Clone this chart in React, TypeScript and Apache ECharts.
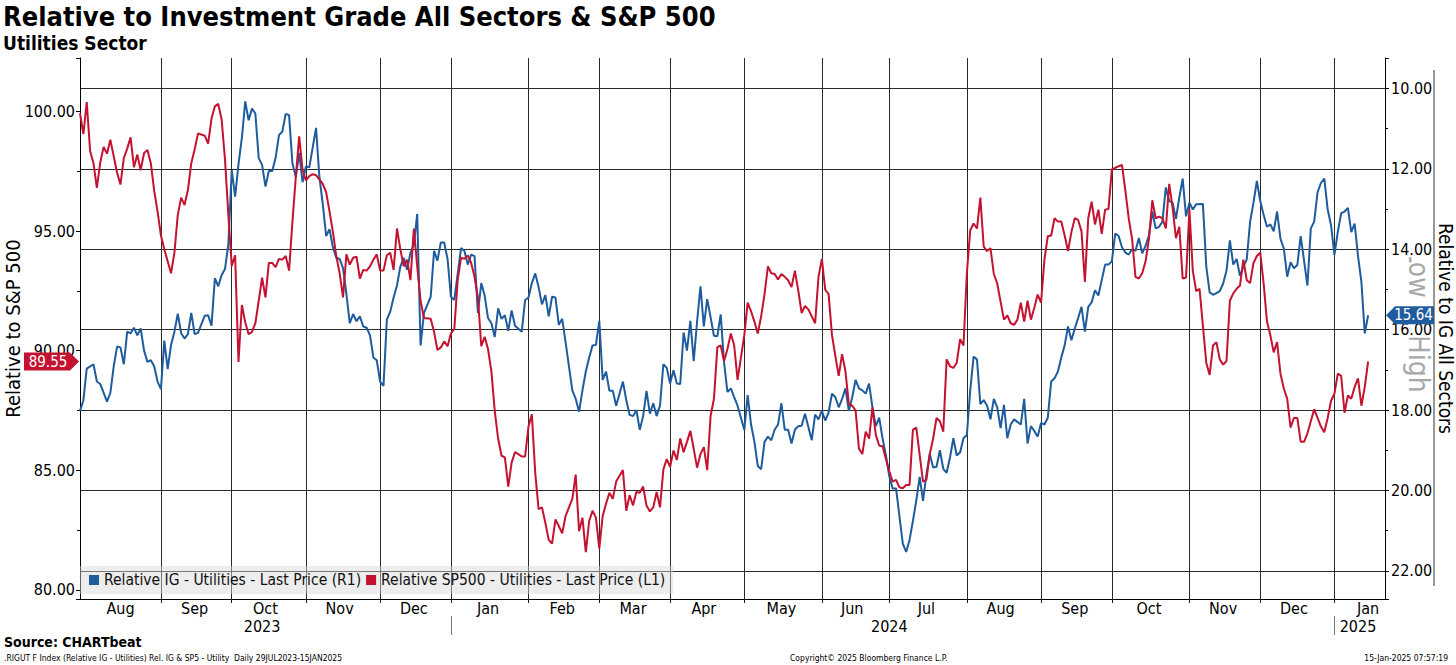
import React, { useEffect, useRef } from "react";
import * as echarts from "echarts";

const FONT = '"DejaVu Sans Condensed", "DejaVu Sans", sans-serif';
const BLUE = "#1f5c9e";
const RED = "#c41230";

const TITLE = "Relative to Investment Grade All Sectors & S&P 500";
const SUBTITLE = "Utilities Sector";
const IG_NAME = "Relative IG - Utilities - Last Price (R1)";
const SP_NAME = "Relative SP500 - Utilities - Last Price (L1)";
const LEFT_AXIS_NAME = "Relative to S&P 500";
const RIGHT_AXIS_NAME = "Relative to IG All Sectors";
const WATERMARK = "Low > High";
const SOURCE = "Source: CHARTbeat";
const FOOT_LEFT = ".RIGUT F Index (Relative IG - Utilities) Rel. IG & SP5 - Utility  Daily 29JUL2023-15JAN2025";
const FOOT_MID = "Copyright\u00a9 2025 Bloomberg Finance L.P.";
const FOOT_RIGHT = "15-Jan-2025 07:57:19";
const MONTHS = ["Jan", "Feb", "Mar", "Apr", "May", "Jun", "Jul", "Aug", "Sep", "Oct", "Nov", "Dec"];

// weekday categories (trading days) from 31 Jul 2023 to 22 Jan 2025
const START_DATE = Date.UTC(2023, 6, 31);
const CATEGORY_COUNT = 388;
const dates: string[] = [];
for (let t = START_DATE; dates.length < CATEGORY_COUNT; t += 86400000) {
  const d = new Date(t);
  const wd = d.getUTCDay();
  if (wd !== 0 && wd !== 6) dates.push(d.toISOString().slice(0, 10));
}

// Relative IG - Utilities (right axis, inverted); x = weekday index from 31 Jul 2023
const igDay = [
  0, 1, 2, 4, 5, 6, 8, 9, 10, 11, 12, 13, 14, 15, 16, 17, 18, 19, 20, 21, 22, 23, 24, 25, 26, 27, 28, 29, 30, 31, 32, 33, 34, 35, 37, 38, 39,
  40, 41, 42, 43, 44, 45, 46, 47, 48, 49, 50, 51, 52, 53, 54, 55, 56, 57, 58, 59, 60, 61, 62, 63, 64, 65, 66, 67, 68, 70, 71, 72, 73, 74, 75,
  76, 77, 78, 79, 80, 81, 82, 83, 84, 85, 86, 87, 88, 89, 90, 91, 92, 93, 94, 95, 96, 97, 98, 99, 100, 101, 102, 103, 104, 105, 106, 107, 108,
  109, 110, 111, 113, 114, 115, 116, 117, 118, 119, 120, 121, 122, 123, 124, 125, 126, 127, 128, 129, 131, 132, 133, 134, 135, 136, 137, 138,
  139, 140, 141, 142, 143, 144, 145, 146, 147, 148, 149, 150, 151, 152, 153, 154, 155, 156, 157, 158, 159, 161, 162, 163, 164, 165, 166, 167,
  168, 169, 170, 171, 172, 173, 174, 175, 176, 177, 178, 179, 180, 181, 182, 183, 184, 185, 186, 187, 188, 189, 190, 191, 192, 193, 194, 195,
  196, 197, 198, 199, 200, 201, 202, 203, 204, 205, 206, 207, 208, 209, 210, 211, 212, 213, 214, 215, 217, 218, 219, 220, 221, 222, 223, 224,
  225, 226, 227, 228, 229, 230, 231, 232, 233, 234, 235, 236, 237, 238, 239, 240, 241, 242, 244, 245, 246, 247, 248, 249, 250, 251, 252, 253,
  254, 255, 256, 257, 258, 259, 260, 261, 262, 263, 264, 265, 266, 267, 268, 269, 270, 271, 272, 273, 274, 275, 276, 277, 279, 280, 281, 282,
  283, 284, 285, 286, 287, 288, 289, 290, 291, 292, 293, 294, 295, 296, 297, 298, 299, 300, 301, 302, 304, 305, 306, 307, 308, 309, 310, 311,
  312, 313, 314, 315, 316, 317, 318, 319, 320, 321, 322, 323, 324, 325, 326, 327, 328, 329, 330, 331, 333, 334, 335, 336, 337, 338, 339, 340,
  341, 342, 343, 344, 345, 346, 347, 348, 349, 350, 351, 352, 353, 354, 355, 356, 357, 358, 359, 360, 361, 362, 364, 365, 366, 367, 368, 369,
  370, 371, 372, 373, 374, 375, 376, 377, 378, 379, 380, 381, 382,
];
const igValue = [
  18.02, 17.76, 16.97, 16.86, 17.29, 17.35, 17.79, 17.57, 16.91, 16.42, 16.44, 16.86, 16.05, 16.09, 15.95, 16.14, 15.97, 16.52, 16.8, 16.76,
  16.91, 17.29, 17.48, 16.27, 16.98, 16.38, 16.05, 15.6, 16.09, 16.22, 16.11, 15.58, 16.11, 16.08, 15.65, 15.64, 15.9,
  14.72, 14.92, 14.64, 14.49, 13.87, 12.03, 12.69, 11.88, 11.23, 10.32, 10.79, 10.5, 10.62, 11.73, 11.9, 12.44, 12.05, 12.05, 11.73, 11.16,
  11.07, 10.63, 10.66, 11.86, 12.2, 11.6, 12.33, 11.94, 11.96, 10.98, 12.2, 12.88, 13.67, 13.5, 13.95,
  14.21, 14.24, 14.47, 15.11, 15.84, 15.61, 15.79, 15.67, 15.92, 15.95, 16.14, 16.69, 16.76, 17.29, 17.4, 15.75, 15.55, 15.2, 14.9, 14.43,
  14.21, 14.51, 14.08, 13.89, 13.12, 16.39, 15.58, 15.38, 15.18, 14.04, 14.28, 13.83, 13.83,
  14.24, 15.18, 15.26, 13.97, 14.04, 14.38, 14.13, 14.17, 15.58, 14.84, 15.15, 15.71, 15.84, 16.18, 15.47, 15.73, 15.64, 16.03, 15.52, 15.9,
  16.05, 15.26, 15.2, 14.84, 14.6, 14.94, 15.37, 15.14,
  15.67, 15.18, 15.2, 15.88, 15.73, 16.31, 16.91, 17.51, 17.72, 18.04, 17.51, 17.04, 16.69, 16.39, 16.38, 15.78, 17.25, 17.04, 17.52, 17.52,
  17.89, 17.29, 17.75, 18.12, 18.15, 18.0, 18.49, 18.15,
  17.52, 18.09, 17.83, 18.15, 17.89, 16.86, 16.95, 17.34, 17.01, 17.34, 17.35, 16.07, 16.52, 15.78, 16.78, 15.79, 14.92, 15.92, 15.24, 15.69,
  16.15, 16.16, 15.62, 16.82, 17.55, 17.46, 17.68, 17.89,
  18.19, 18.49, 17.63, 18.36, 18.79, 19.39, 19.47, 18.79, 18.66, 18.75, 18.49, 18.36, 17.83, 18.49, 18.49, 18.83, 18.49, 18.4, 18.39, 18.09,
  18.75, 18.11, 18.23, 18.02, 18.26, 18.06, 17.59, 17.68,
  17.93, 17.72, 17.46, 18.02, 17.68, 17.25, 17.46, 17.51, 17.59, 17.34, 17.93, 18.4, 18.19, 18.7, 19.13, 19.65, 19.95, 19.95, 21.32, 21.53,
  21.23, 20.76, 20.25, 19.66, 20.26, 19.6, 19.09, 19.43,
  19.41, 19.0, 19.46, 19.56, 19.18, 18.7, 19.13, 19.05, 18.7, 18.62, 17.51, 16.67, 16.74, 17.85, 17.75, 17.89, 18.23, 17.72, 17.93, 18.45,
  17.87, 18.7, 18.36, 18.23, 18.36, 17.72, 18.83, 18.4,
  18.52, 18.66, 18.32, 18.36, 18.19, 17.29, 17.21, 17.04, 16.69, 16.39, 15.92, 16.26, 15.97, 15.71, 15.43, 16.05, 15.43, 15.32, 15.02, 15.15,
  14.38, 14.38, 14.3, 13.61, 13.67, 13.95, 14.08, 14.13,
  14.0, 14.04, 13.72, 14.1, 13.91, 13.65, 13.06, 13.48, 13.44, 13.31, 12.46, 12.8, 12.84, 13.24, 12.71, 12.24, 13.18, 12.84, 13.01, 12.88,
  12.87, 14.43, 15.07, 15.13, 15.09, 15.04, 14.85, 14.53,
  13.78, 14.38, 14.24, 14.66, 14.43, 14.25, 13.31, 12.84, 12.3, 12.8, 13.14, 13.44, 13.38, 13.55, 13.06, 13.74, 13.98, 14.68, 14.32, 14.47,
  14.39, 13.67, 14.9, 13.48, 13.31, 12.58, 12.35, 12.24,
  13.01, 13.4, 14.14, 13.57, 13.1, 13.06, 12.97, 13.57, 13.36, 14.17, 14.81, 16.09, 15.64,
];

// Relative SP500 - Utilities (left axis)
const spDay = [
  0, 1, 2, 3, 4, 5, 6, 7, 8, 9, 11, 12, 13, 14, 15, 16, 17, 18, 19, 20, 21, 22, 23, 24, 25, 26, 27, 28, 29, 30, 31, 32, 33, 34, 35, 37, 38,
  39, 40, 41, 42, 43, 44, 45, 46, 47, 48, 49, 50, 51, 52, 53, 54, 55, 56, 57, 58, 59, 60, 61, 62, 63, 64, 65, 66, 67, 68, 69, 70, 72, 73,
  74, 75, 76, 77, 78, 79, 80, 81, 82, 83, 84, 85, 86, 87, 88, 89, 90, 91, 92, 93, 94, 95, 96, 97, 98, 99, 100, 101, 102, 104, 105, 106, 107,
  108, 109, 110, 111, 112, 113, 114, 115, 116, 117, 118, 119, 120, 121, 122, 123, 124, 125, 126, 127, 128, 129, 130, 131, 132, 133, 134,
  135, 136, 137, 138, 139, 140, 141, 142, 143, 144, 145, 146, 147, 148, 149, 150, 151, 152, 153, 154, 155, 156, 157, 158, 159, 161, 162,
  163, 164, 165, 166, 167, 168, 169, 170, 171, 172, 173, 174, 175, 176, 177, 178, 179, 180, 181, 182, 183, 184, 185, 186, 187, 188, 189,
  190, 191, 192, 193, 194, 195, 196, 197, 198, 199, 200, 201, 202, 203, 204, 205, 206, 207, 208, 209, 210, 211, 212, 213, 214, 215, 216,
  218, 219, 220, 221, 222, 223, 224, 225, 226, 227, 228, 229, 230, 231, 232, 233, 234, 235, 236, 237, 238, 239, 240, 241, 242, 243, 244,
  245, 246, 247, 248, 250, 251, 252, 253, 254, 255, 256, 257, 258, 259, 260, 261, 262, 263, 264, 265, 266, 267, 268, 269, 270, 271, 272,
  274, 275, 276, 277, 278, 279, 280, 281, 282, 283, 284, 285, 286, 287, 288, 289, 290, 291, 292, 293, 294, 295, 296, 297, 298, 299, 300,
  301, 302, 303, 304, 305, 306, 307, 309, 310, 311, 312, 313, 314, 315, 316, 317, 318, 319, 320, 321, 322, 323, 324, 325, 326, 327, 328,
  329, 330, 331, 332, 334, 335, 336, 337, 338, 339, 340, 341, 342, 343, 344, 345, 346, 347, 348, 349, 350, 351, 352, 353, 354, 355, 356,
  357, 358, 359, 360, 361, 362, 363, 364, 365, 366, 367, 368, 369, 370, 371, 372, 373, 374, 375, 376, 377, 378, 379, 380, 381, 382,
];
const spValue = [
  99.93, 99.06, 100.4, 98.35, 97.84, 96.81, 97.87, 98.52, 98.24, 98.82, 97.44, 96.95, 98.06, 98.45, 98.92, 97.67, 98.2, 97.55, 98.27, 98.39,
  97.84, 96.69, 95.83, 94.82, 94.24, 93.74, 93.24, 94.1, 95.68, 96.4, 96.09, 96.72, 97.84, 98.42, 99.09, 98.99, 98.66,
  99.71, 100.22, 100.32, 99.68, 97.99, 95.68, 93.55, 93.99, 89.53, 91.91, 91.19, 90.69, 90.79, 91.15, 92.09, 93.06, 92.23, 93.67, 93.67,
  93.5, 93.84, 93.81, 93.96, 93.35, 95.4, 97.27, 98.96, 97.55, 97.12, 97.3, 97.38, 97.34, 96.98, 96.62,
  95.83, 94.96, 93.96, 93.24, 92.23, 94.03, 93.6, 93.89, 93.93, 93.02, 93.38, 93.35, 93.53, 93.81, 94.03, 93.35, 93.35, 93.99, 94.1, 93.38,
  95.11, 94.24, 93.53, 93.81, 92.95, 95.11, 93.53, 92.09, 91.37, 91.34, 90.79, 90.03, 90.14,
  90.39, 90.19, 90.72, 90.91, 92.95, 93.89, 93.84, 93.99, 93.67, 93.09, 92.23, 90.19, 90.58, 90.07, 89.14, 87.48, 86.33, 85.61, 85.54, 84.32,
  85.32, 85.76, 85.68, 85.58, 85.58, 86.83, 87.34,
  84.89, 83.38, 83.45, 82.81, 82.09, 81.94, 82.95, 82.66, 82.37, 83.09, 83.45, 83.81, 84.82, 82.45, 83.02, 81.58, 82.88, 83.31, 83.02, 81.73,
  83.09, 83.6, 84.06, 83.81, 84.53, 85.01, 83.31,
  83.96, 83.53, 84.1, 84.06, 84.32, 83.53, 83.28, 83.45, 84.1, 83.45, 85.04, 85.47, 85.15, 85.83, 85.44, 86.33, 85.76, 86.19, 86.65, 85.9,
  85.11, 85.68, 85.97, 85.01, 87.27, 87.99, 90.14,
  90.22, 89.57, 90.07, 90.72, 90.22, 88.78, 89.71, 90.65, 92.01, 91.65, 91.22, 90.72, 91.44, 92.37, 93.53, 93.24, 93.21, 92.98, 93.21, 93.09,
  92.95, 92.66, 93.35, 92.52, 91.58, 91.87, 91.73,
  91.15, 93.09, 93.84, 92.55, 92.37, 90.65, 89.78, 88.95, 89.86, 89.14, 87.77, 87.7, 87.51, 85.9, 85.68, 86.62, 86.33, 87.63, 86.48, 86.04,
  86.01, 85.47, 84.96, 84.53, 84.6, 84.29, 84.25,
  84.39, 84.39, 86.69, 86.79, 84.53, 84.6, 85.68, 86.33, 87.19, 87.05, 86.62, 89.64, 89.35, 89.28, 89.5, 90.48, 90.22, 93.24, 95.04, 95.32,
  95.11, 96.4, 94.35, 94.17, 94.29, 93.21, 92.81,
  91.3, 91.48, 91.15, 91.08, 91.3, 92.01, 91.22, 92.09, 91.3, 91.8, 92.35, 92.01, 93.81, 94.79, 94.82, 95.54, 95.4, 95.4, 94.82, 94.17,
  94.96, 95.54, 95.47, 94.99, 92.88, 95.54, 96.23,
  95.28, 95.9, 94.89, 95.9, 95.93, 97.58, 97.65, 97.77, 96.69, 95.54, 94.68, 93.09, 93.02, 93.24, 93.74, 94.68, 96.29, 95.54, 95.61, 95.54,
  95.11, 96.98, 96.0, 94.71, 95.18, 93.02, 93.06,
  95.9, 93.35, 92.49, 92.59, 89.5, 88.99, 90.22, 90.36, 89.64, 89.42, 89.57, 92.09, 92.4, 92.59, 92.73, 93.81, 92.95, 92.83, 93.67, 93.96,
  94.1, 92.83, 91.22, 90.65, 89.93, 90.36, 89.04,
  88.42, 87.99, 86.79, 87.19, 87.19, 86.19, 86.19, 86.55, 87.05, 87.55, 87.19, 86.83, 86.59, 87.19, 87.91, 88.2, 89.04, 88.95, 87.41, 88.13,
  87.99, 88.49, 88.85, 87.7, 88.49, 89.55,
];

const IG_LAST = 15.64;
const SP_LAST = 89.55;

const LEFT_MIN = 79.62;
const LEFT_MAX = 102.24;
const RIGHT_MIN = 9.24;
const RIGHT_MAX = 22.7;

// month / year groupings of the category axis
type Group = { key: string; first: number; last: number };
function groupBy(len: number): Group[] {
  const out: Group[] = [];
  dates.forEach((d, i) => {
    const key = d.slice(0, len);
    const g = out[out.length - 1];
    if (g && g.key === key) g.last = i;
    else out.push({ key, first: i, last: i });
  });
  return out;
}
const monthGroups = groupBy(7);
const yearGroups = groupBy(4);
const lastDataDay = spDay[spDay.length - 1];
const monthLineIdx = new Set(monthGroups.filter((g) => g.first >= 2).map((g) => g.first));
const monthLabelIdx = new Map<number, string>();
monthGroups.forEach((g, k) => {
  if (g.last - g.first < 3) return;
  const isLast = k === monthGroups.length - 1;
  const idx = isLast ? lastDataDay : Math.floor((g.first + g.last) / 2);
  monthLabelIdx.set(idx, MONTHS[Number(g.key.slice(5, 7)) - 1]);
});
const yearLineIdx = new Set(yearGroups.filter((g) => g.first > 0).map((g) => g.first));
const yearLabelIdx = new Map<number, string>();
yearGroups.forEach((g) => yearLabelIdx.set(Math.floor((g.first + g.last) / 2), g.key));

const fmtMultiple = (step: number) => (v: number) =>
  Math.abs(v / step - Math.round(v / step)) < 1e-6 ? v.toFixed(2) : "";

function buildOption(): any {
  return {
    animation: false,
    backgroundColor: "#ffffff",
    textStyle: { fontFamily: FONT, color: "#000" },
    title: {
      text: TITLE,
      subtext: SUBTITLE,
      left: 3,
      top: 3,
      padding: 0,
      itemGap: 3,
      textStyle: { fontSize: 27, fontWeight: "bold", color: "#000", fontFamily: FONT },
      subtextStyle: { fontSize: 19, fontWeight: "bold", color: "#000", fontFamily: FONT },
    },
    grid: { left: 80, right: 71, top: 58, bottom: 66, containLabel: false, outerBoundsMode: "none" },
    legend: {
      left: 80,
      top: 566,
      icon: "rect",
      itemWidth: 10,
      itemHeight: 10,
      itemGap: 5,
      padding: [6, 8, 6, 9],
      backgroundColor: "rgba(215,215,215,0.45)",
      textStyle: { fontSize: 15.5, color: "#111", fontFamily: FONT },
      data: [IG_NAME, SP_NAME],
    },
    xAxis: [
      {
        type: "category",
        data: dates,
        boundaryGap: false,
        axisLine: { show: true, lineStyle: { color: "#000", width: 1 } },
        axisTick: {
          show: true,
          length: 4,
          interval: (i: number) => monthLineIdx.has(i),
          lineStyle: { color: "#222" },
        },
        splitLine: {
          show: true,
          interval: (i: number) => monthLineIdx.has(i),
          lineStyle: { color: "#2a2a2a", width: 1 },
        },
        axisLabel: {
          interval: (i: number) => monthLabelIdx.has(i),
          formatter: (_v: string, i: number) => monthLabelIdx.get(i) ?? "",
          fontSize: 16,
          color: "#000",
          margin: 1,
        },
      },
      {
        type: "category",
        data: dates,
        boundaryGap: false,
        position: "bottom",
        offset: 17,
        axisLine: { show: false },
        axisTick: {
          show: true,
          length: 19,
          interval: (i: number) => yearLineIdx.has(i),
          lineStyle: { color: "#777" },
        },
        splitLine: { show: false },
        axisLabel: {
          interval: (i: number) => yearLabelIdx.has(i),
          formatter: (_v: string, i: number) => yearLabelIdx.get(i) ?? "",
          fontSize: 16,
          color: "#000",
          margin: 2,
        },
      },
    ],
    yAxis: [
      {
        type: "value",
        position: "left",
        min: LEFT_MIN,
        max: LEFT_MAX,
        splitNumber: 5,
        name: LEFT_AXIS_NAME,
        nameLocation: "middle",
        nameGap: 57,
        nameRotate: 90,
        nameMoveOverlap: false,
        nameTextStyle: { fontSize: 20, color: "#000", fontFamily: FONT },
        axisLine: { show: true, lineStyle: { color: "#000", width: 1 } },
        axisTick: { show: true, length: 4, lineStyle: { color: "#000" } },
        minorTick: { show: true, splitNumber: 2, length: 3, lineStyle: { color: "#000" } },
        splitLine: { show: false },
        axisLabel: { formatter: fmtMultiple(5), fontSize: 16, color: "#000", margin: 5 },
      },
      {
        type: "value",
        position: "right",
        inverse: true,
        min: RIGHT_MIN,
        max: RIGHT_MAX,
        splitNumber: 7,
        name: RIGHT_AXIS_NAME,
        nameLocation: "middle",
        nameGap: 51,
        nameRotate: -90,
        nameMoveOverlap: false,
        nameTextStyle: { fontSize: 19, color: "#000", fontFamily: FONT },
        axisLine: { show: true, lineStyle: { color: "#000", width: 1 } },
        axisTick: { show: true, length: 4, lineStyle: { color: "#000" } },
        minorTick: { show: true, splitNumber: 2, length: 3, lineStyle: { color: "#000" } },
        splitLine: {
          show: true,
          showMinLine: false,
          showMaxLine: false,
          lineStyle: { color: "#2a2a2a", width: 1 },
        },
        axisLabel: {
          formatter: fmtMultiple(2),
          fontSize: 16,
          color: "#000",
          margin: 6,
          backgroundColor: "#fff",
        },
      },
    ],
    series: [
      {
        name: IG_NAME,
        type: "line",
        xAxisIndex: 0,
        yAxisIndex: 1,
        data: igDay.map((d, i) => [d, igValue[i]]),
        showSymbol: false,
        symbol: "none",
        lineStyle: { width: 2, color: BLUE },
        itemStyle: { color: BLUE },
        z: 3,
      },
      {
        name: SP_NAME,
        type: "line",
        xAxisIndex: 0,
        yAxisIndex: 0,
        data: spDay.map((d, i) => [d, spValue[i]]),
        showSymbol: false,
        symbol: "none",
        lineStyle: { width: 2, color: RED },
        itemStyle: { color: RED },
        z: 4,
      },
    ],
  };
}

export default function App() {
  const ref = useRef<HTMLDivElement>(null);
  useEffect(() => {
    const el = ref.current;
    if (!el) return;
    const chart = echarts.init(el, undefined, { renderer: "svg" });
    chart.setOption(buildOption());

    const xL = chart.convertToPixel({ xAxisIndex: 0 }, 0) as number;
    const xR = chart.convertToPixel({ xAxisIndex: 0 }, dates.length - 1) as number;
    const yTop = chart.convertToPixel({ yAxisIndex: 1 }, RIGHT_MIN) as number;
    const yBot = chart.convertToPixel({ yAxisIndex: 1 }, RIGHT_MAX) as number;
    const yRed = chart.convertToPixel({ yAxisIndex: 0 }, SP_LAST) as number;
    const yBlue = chart.convertToPixel({ yAxisIndex: 1 }, IG_LAST) as number;
    const tagH = 9;
    const redLeft = 24;
    const blueRight = xR + 49;

    chart.setOption({
      graphic: [
        {
          type: "text",
          z: -1,
          x: xR + 33,
          y: (yTop + yBot) / 2 - 8,
          rotation: -Math.PI / 2,
          style: {
            text: WATERMARK,
            fill: "#a8a8a8",
            fontSize: 28,
            fontFamily: FONT,
            align: "center",
            verticalAlign: "middle",
          },
        },
        {
          type: "line",
          z: 5,
          shape: { x1: blueRight, y1: yTop + 12, x2: blueRight, y2: yBot - 13 },
          style: { stroke: "#333", lineWidth: 1 },
        },
        {
          type: "polygon",
          z: 20,
          shape: {
            points: [
              [redLeft, yRed - tagH],
              [xL - 10, yRed - tagH],
              [xL - 1, yRed],
              [xL - 10, yRed + tagH],
              [redLeft, yRed + tagH],
            ],
          },
          style: { fill: RED },
        },
        {
          type: "text",
          z: 21,
          x: (redLeft + xL - 8) / 2,
          y: yRed,
          style: {
            text: SP_LAST.toFixed(2),
            fill: "#fff",
            fontSize: 15,
            fontFamily: FONT,
            align: "center",
            verticalAlign: "middle",
          },
        },
        {
          type: "polygon",
          z: 20,
          shape: {
            points: [
              [xR + 1, yBlue],
              [xR + 10, yBlue - tagH],
              [blueRight, yBlue - tagH],
              [blueRight, yBlue + tagH],
              [xR + 10, yBlue + tagH],
            ],
          },
          style: { fill: BLUE },
        },
        {
          type: "text",
          z: 21,
          x: (xR + 8 + blueRight) / 2,
          y: yBlue,
          style: {
            text: IG_LAST.toFixed(2),
            fill: "#fff",
            fontSize: 15,
            fontFamily: FONT,
            align: "center",
            verticalAlign: "middle",
          },
        },
        {
          type: "text",
          left: 4,
          top: 635,
          style: { text: SOURCE, fill: "#000", fontSize: 14, fontWeight: "bold", fontFamily: FONT },
        },
        {
          type: "text",
          left: 4,
          top: 653,
          style: { text: FOOT_LEFT, fill: "#000", fontSize: 8.5, fontFamily: FONT },
        },
        {
          type: "text",
          left: 790,
          top: 653,
          style: { text: FOOT_MID, fill: "#000", fontSize: 8.5, fontFamily: FONT },
        },
        {
          type: "text",
          right: 8,
          top: 653,
          style: { text: FOOT_RIGHT, fill: "#000", fontSize: 8.5, fontFamily: FONT },
        },
      ],
    });

    return () => chart.dispose();
  }, []);
  return (
    <div
      ref={ref}
      style={{ position: "fixed", left: 0, top: 0, width: 1456, height: 665, background: "#fff" }}
    />
  );
}
